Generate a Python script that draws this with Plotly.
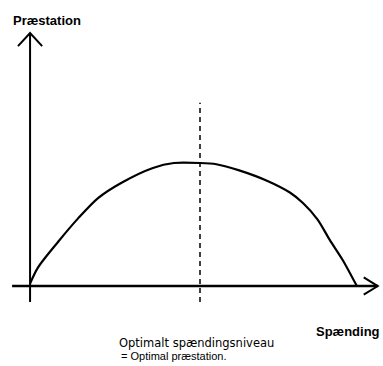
import plotly.graph_objects as go

# stress level (x) vs performance (y)
spaending = [0, 2.4, 8.6, 14.7, 20.8, 28, 37.6, 44, 52, 57, 64, 73, 79.5, 83.5, 88, 91.7, 95.7, 100]
praestation = [2, 15, 36, 55, 71.5, 84, 96, 100, 100, 99, 94, 85, 76, 67.5, 54, 37.5, 21, 0]
optimum = 52

x_min, x_max = -9.2, 108
y_min, y_max = -65, 232.5

fig = go.Figure()

line = dict(color="black", width=2)

# axes with open arrow heads
fig.add_trace(go.Scatter(x=[-5.5, 106.4], y=[0, 0], mode="lines", line=dict(color="black", width=2.5)))
fig.add_trace(go.Scatter(x=[102.1, 106.4, 102.1], y=[7, 0, -7], mode="lines", line=line))
fig.add_trace(go.Scatter(x=[0, 0], y=[-13, 205.7], mode="lines", line=line))
fig.add_trace(go.Scatter(x=[-3.7, 0, 3.7], y=[195, 205.7, 195], mode="lines", line=line))

# optimum marker
fig.add_trace(go.Scatter(x=[optimum, optimum], y=[-13, 149], mode="lines",
                         line=dict(color="black", width=1.5, dash="5px,4px")))

# performance curve
fig.add_trace(go.Scatter(x=spaending, y=praestation, mode="lines",
                         line=dict(color="black", width=2.2, shape="spline", smoothing=0.8)))

fig.add_annotation(text="<b>Præstation</b>", x=11 / 383, y=1 - 11 / 366, xref="paper", yref="paper",
                   xanchor="left", yanchor="top", showarrow=False,
                   font=dict(family="Liberation Sans", size=13, color="black"))
fig.add_annotation(text="<b>Spænding</b>", x=382 / 383, y=1 - 322 / 366, xref="paper", yref="paper",
                   xanchor="right", yanchor="top", showarrow=False,
                   font=dict(family="Liberation Sans", size=13, color="black"))
fig.add_annotation(text="Optimalt spændingsniveau", x=117 / 383, y=1 - 334 / 366, xref="paper", yref="paper",
                   xanchor="left", yanchor="top", showarrow=False,
                   font=dict(family="DejaVu Sans", size=11.5, color="black"))
fig.add_annotation(text="= Optimal præstation.", x=119 / 383, y=1 - 348 / 366, xref="paper", yref="paper",
                   xanchor="left", yanchor="top", showarrow=False,
                   font=dict(family="Liberation Sans", size=11, color="black"))

fig.update_layout(
    width=383, height=366,
    margin=dict(l=0, r=0, t=0, b=0),
    paper_bgcolor="white", plot_bgcolor="white",
    showlegend=False,
    xaxis=dict(range=[x_min, x_max], visible=False),
    yaxis=dict(range=[y_min, y_max], visible=False),
)

fig.write_html("out.html", config={"displayModeBar": False},
               post_script="document.body.style.margin='0';")
